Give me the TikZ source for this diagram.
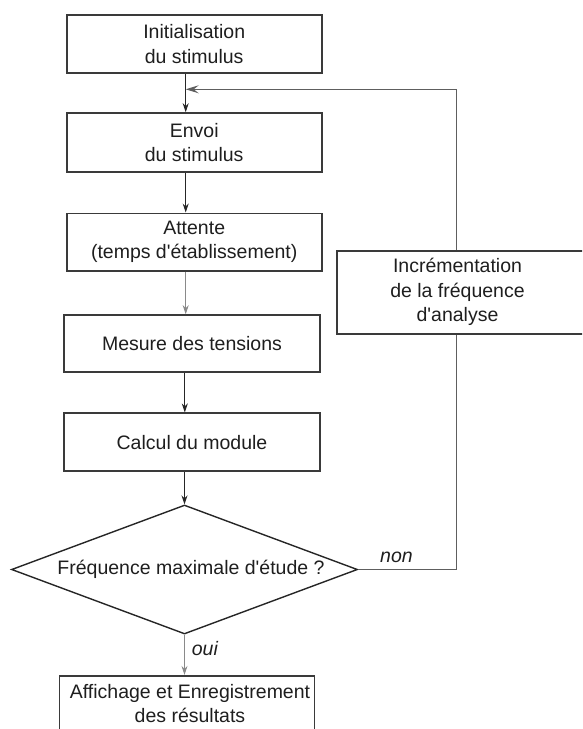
\documentclass[tikz,border=0pt]{standalone}
\usepackage{fontspec}
\setmainfont{Liberation Sans}
\usetikzlibrary{arrows.meta,shapes.geometric}
\definecolor{boxc}{HTML}{3A3A3A}
\definecolor{linec}{HTML}{262626}
\definecolor{grayc}{HTML}{8A8A8A}
\definecolor{fbc}{HTML}{5E5E5E}
\definecolor{txtc}{HTML}{1E1E1E}
\begin{document}
\begin{tikzpicture}[x=1pt,y=-1pt,
  every node/.style={font=\fontsize{19.5}{24.5}\selectfont, text=txtc},
  box/.style={draw=boxc, line width=1.6pt, inner sep=0pt, align=center},
  txt/.style={align=center, inner sep=0pt},
  lbl/.style={font=\fontsize{19.5}{24.5}\selectfont\itshape, inner sep=0pt},
  conn/.style={draw=linec, line width=0.9pt, -{Stealth[length=9pt,width=6pt,inset=3pt]}},
  fb/.style={draw=fbc, line width=0.9pt}]
\useasboundingbox (0,0) rectangle (582,729);
\clip (0,0) rectangle (582,729);

% process boxes
\node[box, minimum width=255pt, minimum height=57.7pt] (b1) at (194.2,43.85) {Initialisation\\du stimulus};
\node[box, minimum width=255pt, minimum height=58.7pt] (b2) at (194.2,142.35) {Envoi\\du stimulus};
\node[box, minimum width=255pt, minimum height=57.4pt] (b3) at (194.2,242) {Attente\\(temps d\textquotesingle établissement)};
\node[box, minimum width=256pt, minimum height=57pt] (b4) at (192,343.5) {Mesure des tensions};
\node[box, minimum width=256pt, minimum height=58pt] (b5) at (192,442.2) {Calcul du module};

% decision
\node[diamond, draw=linec, line width=1.4pt, inner sep=0pt, minimum width=346pt, minimum height=129pt] (d) at (184.5,569.5) {};
\node[txt] (dt) at (191,569.5) {Fréquence maximale d\textquotesingle étude ?};

% increment box
\node[box, minimum width=253.3pt, minimum height=83.3pt] (inc) at (463.35,292.35) {};
\node[txt] (inct) at (457.5,292.3) {Incrémentation\\de la fréquence\\d\textquotesingle analyse};

% final box (cut at the bottom)
\node[box, minimum width=255pt, minimum height=55.4pt] (b6) at (186.8,703.4) {};
\node[txt] (b6t) at (190,703.4) {Affichage et Enregistrement\\des résultats};

% helper coordinates
\coordinate (xa) at (185.7,0);
\coordinate (xb) at (184.8,0);
\coordinate (xf) at (456.7,0);
\coordinate (j) at (185.7,89.3);

% connectors
\draw[conn] (b1.south -| xa) -- (b2.north -| xa);
\draw[conn] (b2.south -| xa) -- (b3.north -| xa);
\draw[conn, draw=grayc] (b3.south -| xa) -- (b4.north -| xa);
\draw[conn] (b4.south -| xb) -- (b5.north -| xb);
\draw[conn] (b5.south -| d.north) -- (d.north);
\draw[conn, draw=grayc] (d.south) -- (b6.north -| d.south);

% feedback loop
\draw[fb] (d.east) -| (inc.south -| xf);
\draw[fb, -{Stealth[length=13pt,width=8pt,inset=5pt]}] (inc.north -| xf) |- (j);

% labels
\node[lbl, anchor=base west] (non) at (380,562) {non};
\node[lbl, anchor=base west] (oui) at (191.7,655) {oui};
\end{tikzpicture}
\end{document}
